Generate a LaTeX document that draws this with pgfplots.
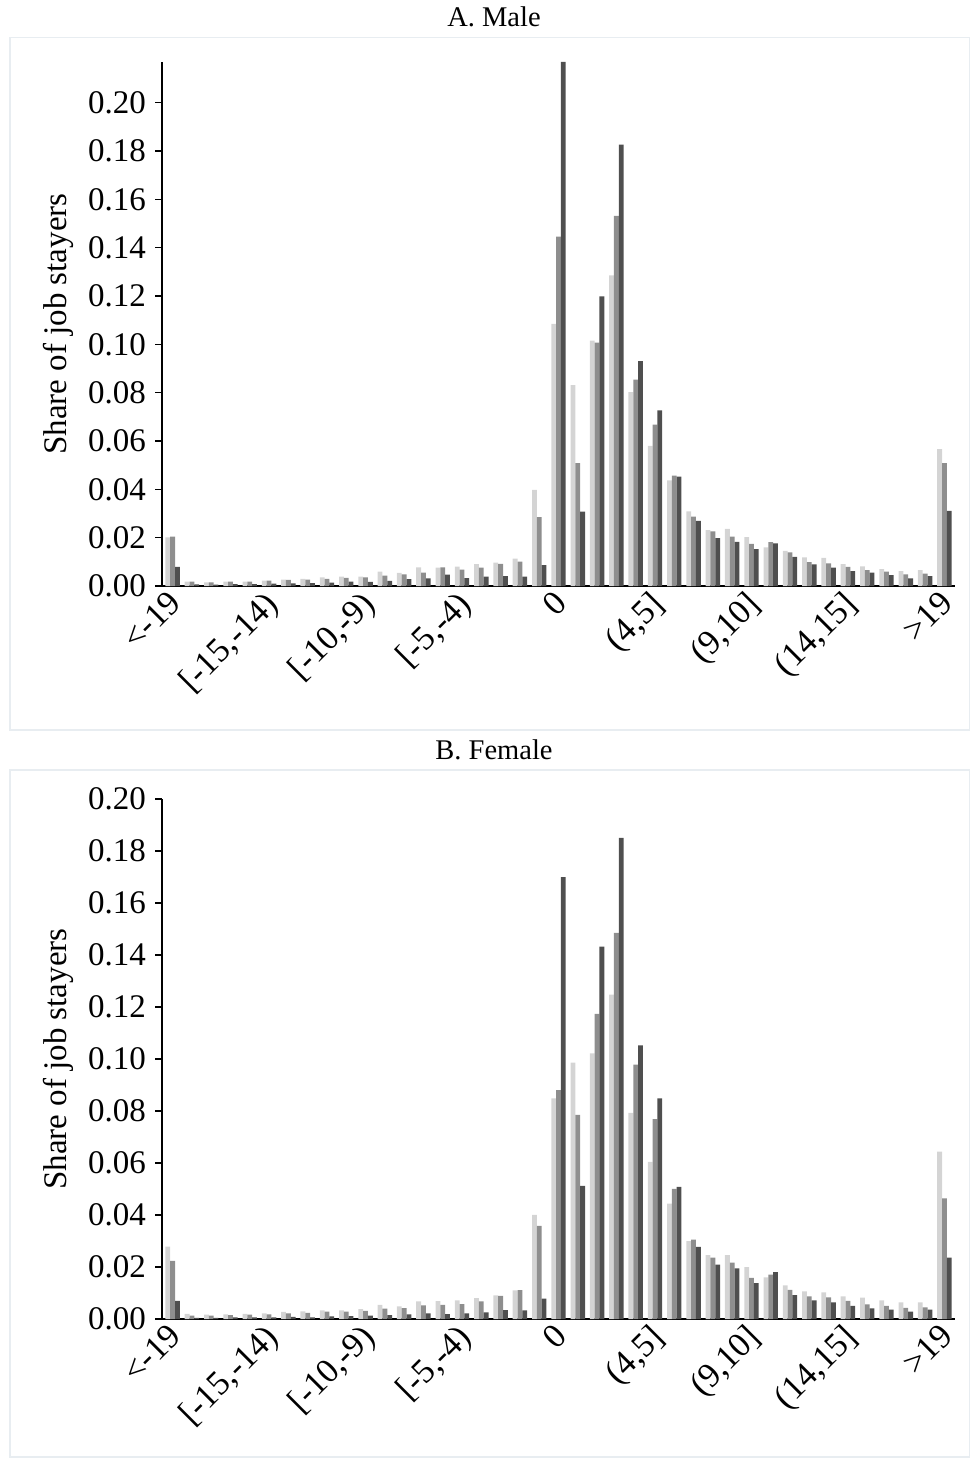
\documentclass[border=0pt]{standalone}
\usepackage{fontspec}
\setmainfont{Liberation Serif}
\usepackage{pgfplots}
\usepackage{pgfplotstable}
\pgfplotsset{compat=1.18}
\definecolor{lightbar}{RGB}{212,212,212}
\definecolor{midbar}{RGB}{142,142,142}
\definecolor{darkbar}{RGB}{79,79,79}
\definecolor{framecol}{RGB}{232,237,241}

\pgfplotstableread{
x a b c
0 0.0201 0.0204 0.0079
1 0.0018 0.0018 0.0007
2 0.0015 0.0015 0.0006
3 0.0018 0.0018 0.0008
4 0.0018 0.0018 0.0008
5 0.0022 0.0022 0.0010
6 0.0026 0.0025 0.0011
7 0.0030 0.0026 0.0012
8 0.0036 0.0029 0.0014
9 0.0039 0.0034 0.0018
10 0.0039 0.0036 0.0017
11 0.0059 0.0043 0.0021
12 0.0054 0.0048 0.0028
13 0.0077 0.0055 0.0032
14 0.0076 0.0077 0.0047
15 0.0080 0.0068 0.0033
16 0.0091 0.0076 0.0039
17 0.0097 0.0092 0.0041
18 0.0113 0.0101 0.0039
19 0.0398 0.0285 0.0086
20 0.1085 0.1445 0.2168
21 0.0831 0.0508 0.0308
22 0.1015 0.1007 0.1198
23 0.1285 0.1531 0.1826
24 0.0802 0.0854 0.0930
25 0.0580 0.0668 0.0727
26 0.0437 0.0457 0.0453
27 0.0309 0.0287 0.0269
28 0.0231 0.0226 0.0198
29 0.0236 0.0204 0.0183
30 0.0202 0.0174 0.0153
31 0.0160 0.0182 0.0176
32 0.0145 0.0139 0.0121
33 0.0118 0.0099 0.0090
34 0.0116 0.0094 0.0076
35 0.0091 0.0079 0.0062
36 0.0081 0.0066 0.0055
37 0.0070 0.0060 0.0045
38 0.0062 0.0048 0.0032
39 0.0066 0.0051 0.0041
40 0.0566 0.0508 0.0311
}\male

\pgfplotstableread{
x a b c
0 0.0278 0.0224 0.0070
1 0.0020 0.0013 0.0004
2 0.0017 0.0013 0.0004
3 0.0018 0.0015 0.0006
4 0.0020 0.0017 0.0006
5 0.0022 0.0018 0.0006
6 0.0027 0.0022 0.0008
7 0.0029 0.0024 0.0006
8 0.0033 0.0028 0.0010
9 0.0033 0.0028 0.0011
10 0.0038 0.0031 0.0013
11 0.0054 0.0040 0.0015
12 0.0049 0.0042 0.0018
13 0.0068 0.0052 0.0022
14 0.0069 0.0054 0.0019
15 0.0072 0.0057 0.0022
16 0.0080 0.0068 0.0026
17 0.0091 0.0089 0.0034
18 0.0110 0.0111 0.0033
19 0.0401 0.0358 0.0078
20 0.0849 0.0880 0.1700
21 0.0986 0.0785 0.0512
22 0.1022 0.1174 0.1432
23 0.1248 0.1485 0.1851
24 0.0793 0.0978 0.1052
25 0.0604 0.0769 0.0849
26 0.0444 0.0501 0.0508
27 0.0300 0.0305 0.0277
28 0.0246 0.0236 0.0209
29 0.0246 0.0217 0.0195
30 0.0200 0.0158 0.0138
31 0.0160 0.0171 0.0180
32 0.0129 0.0112 0.0092
33 0.0106 0.0087 0.0072
34 0.0102 0.0083 0.0064
35 0.0087 0.0070 0.0051
36 0.0082 0.0056 0.0041
37 0.0072 0.0051 0.0036
38 0.0064 0.0043 0.0028
39 0.0064 0.0045 0.0036
40 0.0644 0.0464 0.0236
}\female

\pgfplotsset{
  panel/.style={
    scale only axis, width=793pt,
    xmin=-0.55, xmax=40.55, ymin=0,
    axis x line*=bottom, axis y line*=left,
    axis line style={line width=1.2pt, black, -},
    ybar=0pt, bar width=4.8pt,
    xtick={0,5,...,40},
    xticklabels={{<-19},{[-15,-14)},{[-10,-9)},{[-5,-4)},{0},{(4,5]},{(9,10]},{(14,15]},{>19}},
    x tick label style={rotate=45, anchor=north east, inner sep=0pt, xshift=-1.4pt, yshift=7.5pt, font=\fontsize{34.5}{37}\selectfont},
    x tick style={draw=none},
    ytick={0,0.02,0.04,0.06,0.08,0.10,0.12,0.14,0.16,0.18,0.20},
    yticklabel style={/pgf/number format/fixed, /pgf/number format/precision=2, /pgf/number format/fixed zerofill, inner sep=0pt, xshift=-9pt, font=\fontsize{33}{36}\selectfont},
    /pgf/number format/assume math mode=true,
    tick align=outside, major tick length=7pt,
    y tick style={line width=1.2pt, black},
    ylabel={Share of job stayers},
    every axis y label/.style={at={(axis description cs:-0.131,0.5)}, rotate=90, anchor=center, font=\fontsize{33}{36}\selectfont},
    clip=false,
  }
}

\begin{document}
\begin{tikzpicture}
\path[use as bounding box] (0pt,0pt) rectangle (971pt,-1458pt);
\draw[framecol, line width=1.5pt] (10pt,-37.5pt) rectangle (969.5pt,-730pt);
\draw[framecol, line width=1.5pt] (10pt,-770pt) rectangle (969.5pt,-1457pt);
\node[font=\fontsize{28.5}{30}\selectfont] at (494pt,-17pt) {A. Male};
\node[font=\fontsize{28.5}{30}\selectfont] at (494pt,-750pt) {B. Female};

\begin{axis}[panel, height=524pt, ymax=0.2168, anchor=south west, at={(162pt,-586pt)}]
\addplot[draw=none, fill=lightbar] table[x=x, y=a] {\male};
\addplot[draw=none, fill=midbar] table[x=x, y=b] {\male};
\addplot[draw=none, fill=darkbar] table[x=x, y=c] {\male};
\end{axis}

\begin{axis}[panel, height=520pt, ymax=0.2, anchor=south west, at={(162pt,-1319pt)}]
\addplot[draw=none, fill=lightbar] table[x=x, y=a] {\female};
\addplot[draw=none, fill=midbar] table[x=x, y=b] {\female};
\addplot[draw=none, fill=darkbar] table[x=x, y=c] {\female};
\end{axis}
\end{tikzpicture}
\end{document}
